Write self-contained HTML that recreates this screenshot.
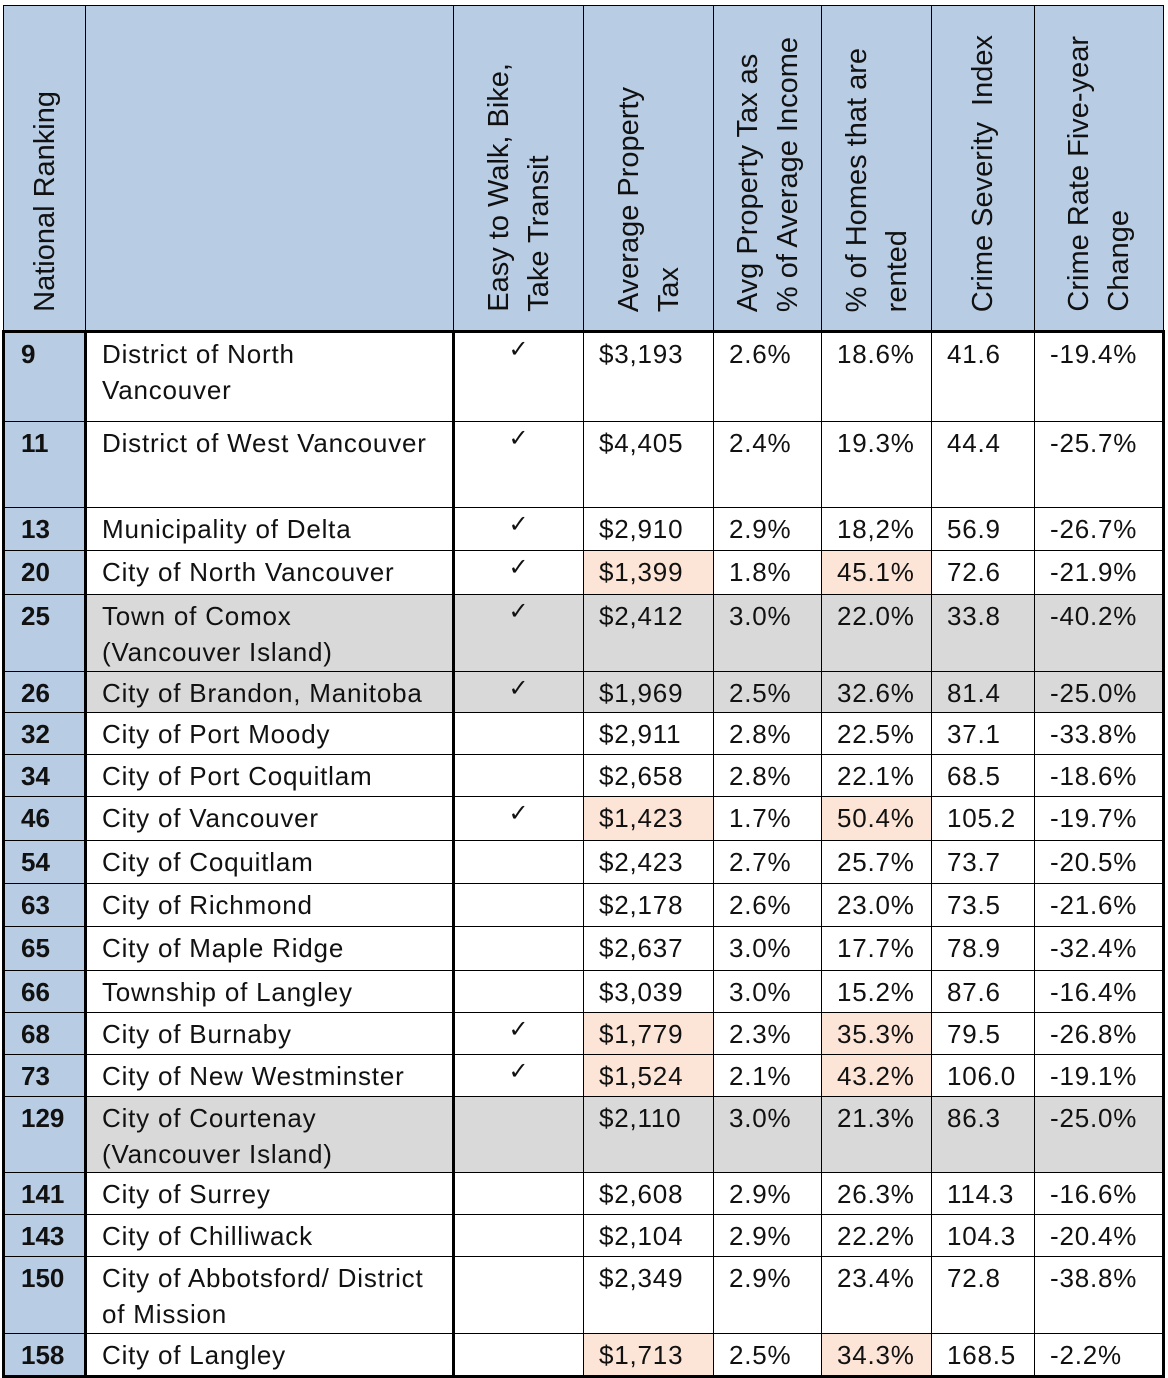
<!DOCTYPE html>
<html><head><meta charset="utf-8">
<style>
html,body{margin:0;padding:0;background:#fff;}
body{width:1168px;height:1378px;position:relative;overflow:hidden;font-family:"Liberation Sans",sans-serif;}
table{position:absolute;left:2px;top:5px;border-collapse:collapse;table-layout:fixed;}
td,th{border:1px solid #000;padding:0;box-sizing:border-box;font-size:26px;color:#111;overflow:hidden;}
th{background:#b8cce4;font-weight:normal;vertical-align:bottom;height:326px;}
th div{writing-mode:vertical-rl;transform:rotate(180deg);font-size:29px;line-height:40px;text-align:left;margin:0 auto 18px auto;white-space:nowrap;}
td{vertical-align:top;padding-top:3px;line-height:36px;padding-left:15px;white-space:nowrap;letter-spacing:0.8px;}
td.rank{background:#b8cce4;font-weight:bold;padding-left:16px;letter-spacing:0;}
td.chk{text-align:center;padding-left:0;padding-top:0;line-height:34px;font-size:24px;}
tr.gray td:not(.rank){background:#d9d9d9;}
td.hl{background:#fce4d6 !important;}
tbody tr td:first-child{border-left:3px solid #000;}
tbody tr td:nth-child(2){border-left:3px solid #000;border-right:3px solid #000;}
tbody tr td:last-child{border-right:3px solid #000;}
tbody tr:first-child td{border-top:3px solid #000;}
tbody tr:last-child td{border-bottom:3px solid #000;}
</style></head>
<body>
<table id="t">
<colgroup><col style="width:82px"><col style="width:368px"><col style="width:130px"><col style="width:130px"><col style="width:108px"><col style="width:110px"><col style="width:103px"><col style="width:129px"></colgroup>
<thead><tr>
<th><div>National Ranking</div></th>
<th></th>
<th><div>Easy to Walk, Bike,<br>Take Transit</div></th>
<th><div>Average Property<br>Tax</div></th>
<th><div>Avg Property Tax as<br>% of Average Income</div></th>
<th><div>% of Homes that are<br>rented</div></th>
<th><div>Crime Severity&nbsp; Index</div></th>
<th><div>Crime Rate Five-year<br>Change</div></th>
</tr></thead>
<tbody id="tb"></tbody>
</table>
<script>
const ranks=["9","11","13","20","25","26","32","34","46","54","63","65","66","68","73","129","141","143","150","158"];
const cities=["District of North<br>Vancouver","District of West Vancouver","Municipality of Delta","City of North Vancouver","Town of Comox<br>(Vancouver Island)","City of Brandon, Manitoba","City of Port Moody","City of Port Coquitlam","City of Vancouver","City of Coquitlam","City of Richmond","City of Maple Ridge","Township of Langley","City of Burnaby","City of New Westminster","City of Courtenay<br>(Vancouver Island)","City of Surrey","City of Chilliwack","City of Abbotsford/ District<br>of Mission","City of Langley"];
const transit=[1,1,1,1,1,1,0,0,1,0,0,0,0,1,1,0,0,0,0,0];
const tax=["$3,193","$4,405","$2,910","$1,399","$2,412","$1,969","$2,911","$2,658","$1,423","$2,423","$2,178","$2,637","$3,039","$1,779","$1,524","$2,110","$2,608","$2,104","$2,349","$1,713"];
const taxPct=["2.6%","2.4%","2.9%","1.8%","3.0%","2.5%","2.8%","2.8%","1.7%","2.7%","2.6%","3.0%","3.0%","2.3%","2.1%","3.0%","2.9%","2.9%","2.9%","2.5%"];
const rented=["18.6%","19.3%","18,2%","45.1%","22.0%","32.6%","22.5%","22.1%","50.4%","25.7%","23.0%","17.7%","15.2%","35.3%","43.2%","21.3%","26.3%","22.2%","23.4%","34.3%"];
const crime=["41.6","44.4","56.9","72.6","33.8","81.4","37.1","68.5","105.2","73.7","73.5","78.9","87.6","79.5","106.0","86.3","114.3","104.3","72.8","168.5"];
const change=["-19.4%","-25.7%","-26.7%","-21.9%","-40.2%","-25.0%","-33.8%","-18.6%","-19.7%","-20.5%","-21.6%","-32.4%","-16.4%","-26.8%","-19.1%","-25.0%","-16.6%","-20.4%","-38.8%","-2.2%"];
const gray=[0,0,0,0,1,1,0,0,0,0,0,0,0,0,0,1,0,0,0,0];
const hl=[0,0,0,1,0,0,0,0,1,0,0,0,0,1,1,0,0,0,0,1];
const heights=[90,86,43,44,77,41,42,42,44,43,43,44,42,42,42,75,42,42,77,43];
const tb=document.getElementById('tb');
for(let i=0;i<ranks.length;i++){
  const tr=document.createElement('tr');
  
  
  tr.style.height=heights[i]+'px';
  if(gray[i])tr.className='gray';
  const vals=[ranks[i],cities[i],transit[i]?'✓':'',tax[i],taxPct[i],rented[i],crime[i],change[i]];
  const names=['rank','city','transit','property-tax','tax-income','rented','crime-index','crime-change'];
  for(let j=0;j<8;j++){
    const td=document.createElement('td');
    
    
    td.innerHTML=vals[j];
    if(j===0)td.className='rank';
    if(j===2)td.className='chk';
    if((j===3||j===5)&&hl[i])td.className='hl';
    tr.appendChild(td);
  }
  tb.appendChild(tr);
}
</script>
</body></html>
